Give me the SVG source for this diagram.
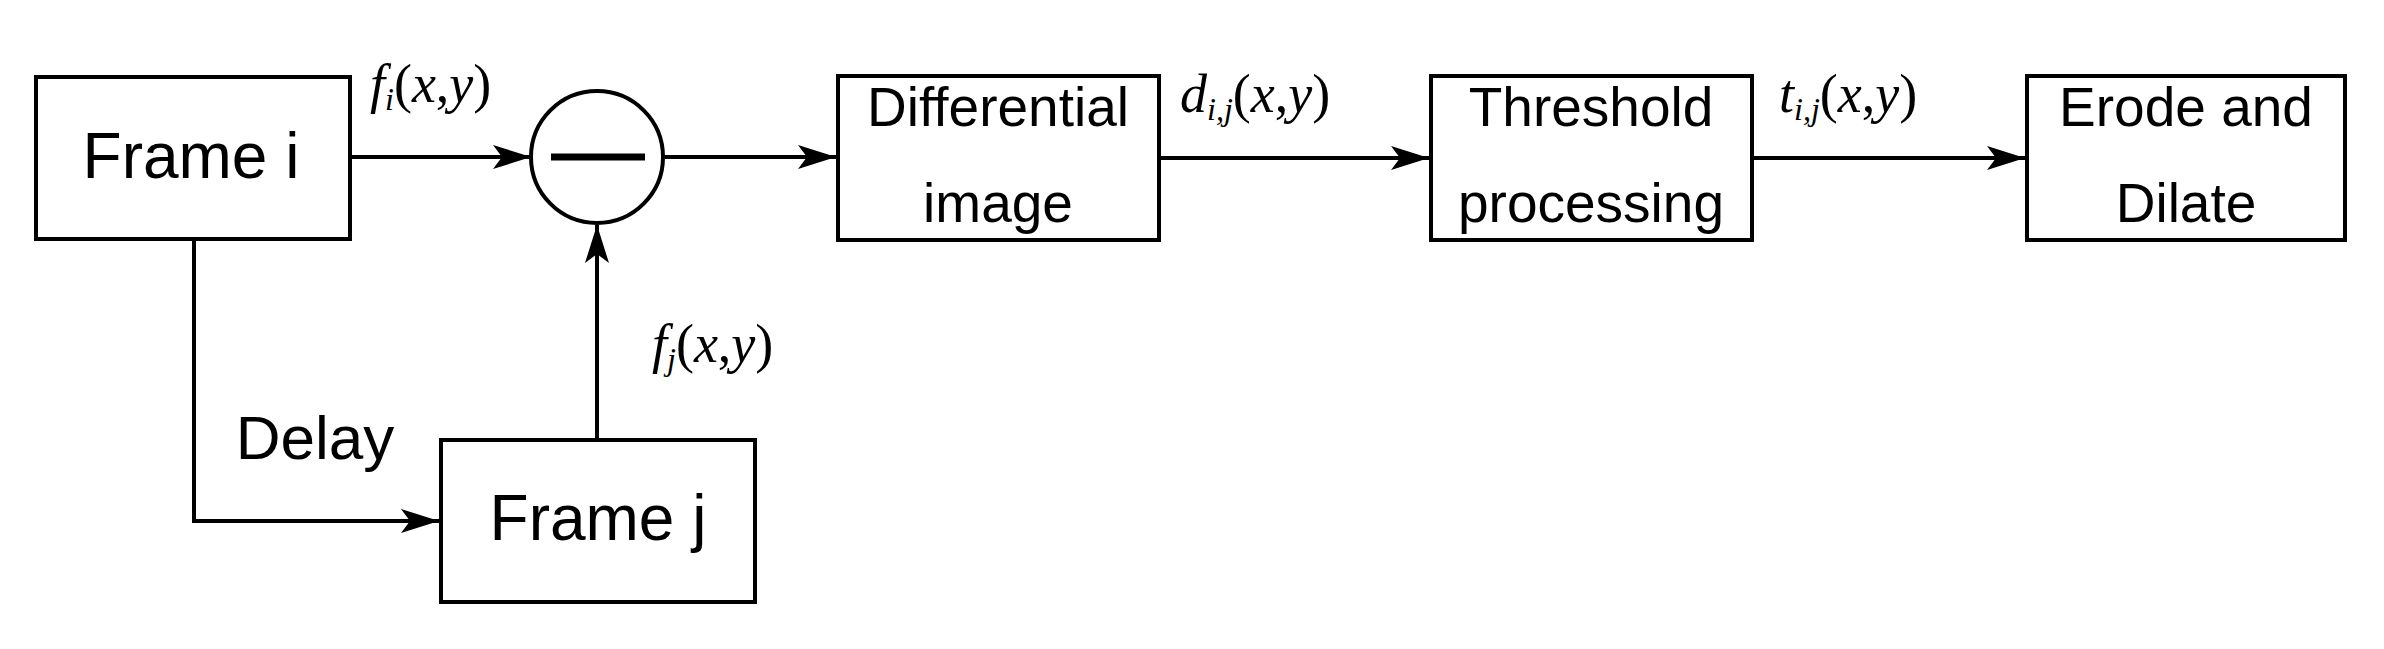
<svg xmlns="http://www.w3.org/2000/svg" width="2384" height="649" viewBox="0 0 2384 649">
<defs>
<marker id="ah" markerWidth="40" markerHeight="24" refX="38" refY="12" orient="auto" markerUnits="userSpaceOnUse"><path d="M0,0 L38,12 L0,24 L9,12 Z" fill="#000"/></marker>
<style>
.b{fill:#fff;stroke:#000;stroke-width:4}
.t{font-family:"Liberation Sans",Arial,sans-serif;fill:#000;text-anchor:middle}
.m{font-family:"Liberation Serif","Times New Roman",serif;font-style:italic;font-size:54px;fill:#000}
.s{font-size:32px}
.p{font-style:normal}
.c{fill:none;stroke:#000;stroke-width:4}
</style>
</defs>
<rect width="2384" height="649" fill="#fff"/>
<g id="connectors">
<line class="c" x1="350" y1="157" x2="531" y2="157" marker-end="url(#ah)"/>
<line class="c" x1="663" y1="157" x2="836" y2="157" marker-end="url(#ah)"/>
<line class="c" x1="1159" y1="158" x2="1429" y2="158" marker-end="url(#ah)"/>
<line class="c" x1="1752" y1="158" x2="2025" y2="158" marker-end="url(#ah)"/>
<polyline class="c" points="194,239 194,521 439,521" marker-end="url(#ah)"/>
<line class="c" x1="597" y1="440" x2="597" y2="225" marker-end="url(#ah)"/>
</g>
<g id="frame-i"><rect class="b" x="36" y="77" width="314" height="162"/><text class="t" x="191" y="178" font-size="64">Frame i</text></g>
<g id="frame-j"><rect class="b" x="441" y="440" width="314" height="162"/><text class="t" x="598" y="540" font-size="64">Frame j</text></g>
<g id="subtract"><circle cx="597" cy="157" r="66" fill="#fff" stroke="#000" stroke-width="4"/><line x1="551" y1="157" x2="645" y2="157" stroke="#000" stroke-width="7"/></g>
<g id="differential"><rect class="b" x="838" y="76" width="321" height="164"/><text class="t" x="998" y="126" font-size="55">Differential</text><text class="t" x="998" y="222" font-size="55">image</text></g>
<g id="threshold"><rect class="b" x="1431" y="76" width="321" height="164"/><text class="t" x="1591" y="126" font-size="55">Threshold</text><text class="t" x="1591" y="222" font-size="55">processing</text></g>
<g id="erode"><rect class="b" x="2027" y="76" width="318" height="164"/><text class="t" x="2186" y="126" font-size="55">Erode and</text><text class="t" x="2186" y="222" font-size="55">Dilate</text></g>
<g id="labels">
<text class="m" x="370" y="102">f<tspan class="s" dy="8">i</tspan><tspan class="p" dy="-8">(</tspan>x<tspan class="p">,</tspan>y<tspan class="p">)</tspan></text>
<text class="m" x="652" y="362">f<tspan class="s" dy="8">j</tspan><tspan class="p" dy="-8">(</tspan>x<tspan class="p">,</tspan>y<tspan class="p">)</tspan></text>
<text class="m" x="1180" y="112">d<tspan class="s" dy="8">i,j</tspan><tspan class="p" dy="-8">(</tspan>x<tspan class="p">,</tspan>y<tspan class="p">)</tspan></text>
<text class="m" x="1779" y="112">t<tspan class="s" dy="8">i,j</tspan><tspan class="p" dy="-8">(</tspan>x<tspan class="p">,</tspan>y<tspan class="p">)</tspan></text>
<text class="t" x="315" y="459" font-size="62">Delay</text>
</g>
</svg>
